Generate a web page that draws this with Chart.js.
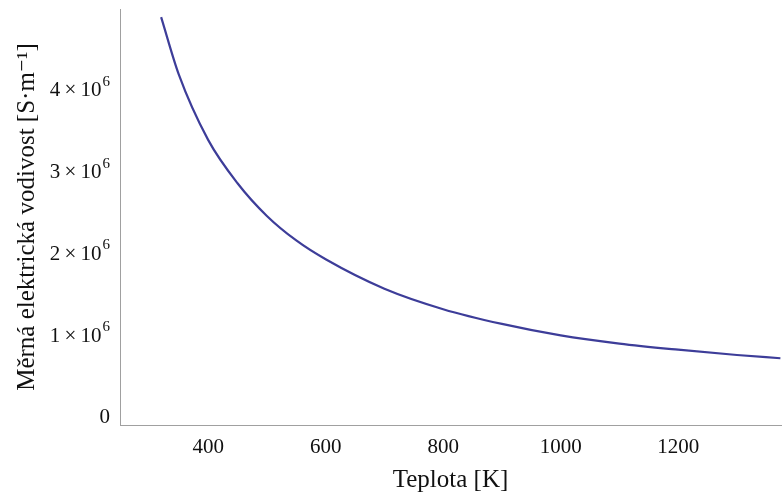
<!DOCTYPE html>
<html>
<head>
<meta charset="utf-8">
<script src="https://cdn.jsdelivr.net/npm/chart.js@4/dist/chart.umd.min.js"></script>
<style>
  html, body { margin: 0; padding: 0; background: #fff; }
  #wrap { width: 782px; height: 495px; }
</style>
</head>
<body>
<div id="wrap"><canvas id="myChart"></canvas></div>
<script>
// Temperature [K] and conductivity [10^6 S/m]
const temperature = [320, 350, 400, 450, 500, 550, 600, 700, 800, 900, 1000, 1100, 1200, 1300, 1374];
const conductivity = [4.90, 4.20, 3.40, 2.87, 2.47, 2.17, 1.94, 1.58, 1.33, 1.15, 1.01, 0.91, 0.835, 0.77, 0.73];

const xTicks = [400, 600, 800, 1000, 1200];
const yTicks = [0, 1, 2, 3, 4];
const yMantissa = ["0", "1\u2009\u00d7\u200910", "2\u2009\u00d7\u200910", "3\u2009\u00d7\u200910", "4\u2009\u00d7\u200910"];
const yExponent = ["", "6", "6", "6", "6"];

const serif = "'Liberation Serif', 'DejaVu Serif', serif";
const axisGray = "#a0a0a0";
const textColor = "#111";

// y tick labels drawn as mantissa with a raised exponent, like the original
const powerLabels = {
  id: "powerLabels",
  afterDraw(chart) {
    const yScale = chart.scales.y;
    const c = chart.ctx;
    const right = yScale.right - 10;
    c.save();
    c.fillStyle = textColor;
    c.textBaseline = "middle";
    yTicks.forEach((v, i) => {
      const y = yScale.getPixelForValue(v * 1e6);
      let x = right;
      if (yExponent[i]) {
        c.font = "15px " + serif;
        c.textAlign = "right";
        c.fillText(yExponent[i], x, y - 9);
        x -= c.measureText(yExponent[i]).width + 1;
      }
      c.font = "21px " + serif;
      c.textAlign = "right";
      c.fillText(yMantissa[i], x, y);
    });
    c.restore();
  },
};

const ctx = document.getElementById("myChart");

new Chart(ctx, {
  type: "line",
  data: {
    datasets: [
      {
        label: "vodivost",
        data: temperature.map((t, i) => ({ x: t, y: conductivity[i] * 1e6 })),
        borderColor: "#3d3d99",
        borderWidth: 2.2,
        pointRadius: 0,
        cubicInterpolationMode: "monotone",
        fill: false,
      },
    ],
  },
  options: {
    responsive: true,
    maintainAspectRatio: false,
    animation: false,
    layout: { padding: { top: 9, right: 1, left: 0, bottom: 0 } },
    plugins: {
      legend: { display: false },
      tooltip: { enabled: false },
    },
    scales: {
      x: {
        type: "linear",
        min: 250,
        max: 1375,
        afterBuildTicks: (scale) => {
          scale.ticks = xTicks.map((v) => ({ value: v }));
        },
        afterFit: (scale) => {
          scale.height = 70;
          scale.paddingLeft = 0;
          scale.paddingRight = 0;
        },
        grid: { drawOnChartArea: false, drawTicks: false },
        border: { color: axisGray, width: 1 },
        ticks: {
          padding: 10,
          color: textColor,
          font: { family: serif, size: 21 },
          maxRotation: 0,
          callback: (value) => String(value),
        },
        title: {
          display: true,
          text: "Teplota [K]",
          color: textColor,
          font: { family: serif, size: 25 },
          padding: { top: 0, bottom: 0 },
        },
      },
      y: {
        type: "linear",
        min: -0.086e6,
        max: 5.0e6,
        afterBuildTicks: (scale) => {
          scale.ticks = yTicks.map((v) => ({ value: v * 1e6 }));
        },
        afterFit: (scale) => {
          scale.width = 120;
          scale.paddingTop = 0;
          scale.paddingBottom = 0;
        },
        grid: { drawOnChartArea: false, drawTicks: false },
        border: { color: axisGray, width: 1 },
        ticks: { display: false },
        title: {
          display: true,
          text: "M\u011brn\u00e1 elektrick\u00e1 vodivost [S\u00b7m\u207b\u00b9]",
          color: textColor,
          font: { family: serif, size: 25 },
          padding: { top: 12, bottom: 0 },
        },
      },
    },
  },
  plugins: [powerLabels],
});
</script>
</body>
</html>
